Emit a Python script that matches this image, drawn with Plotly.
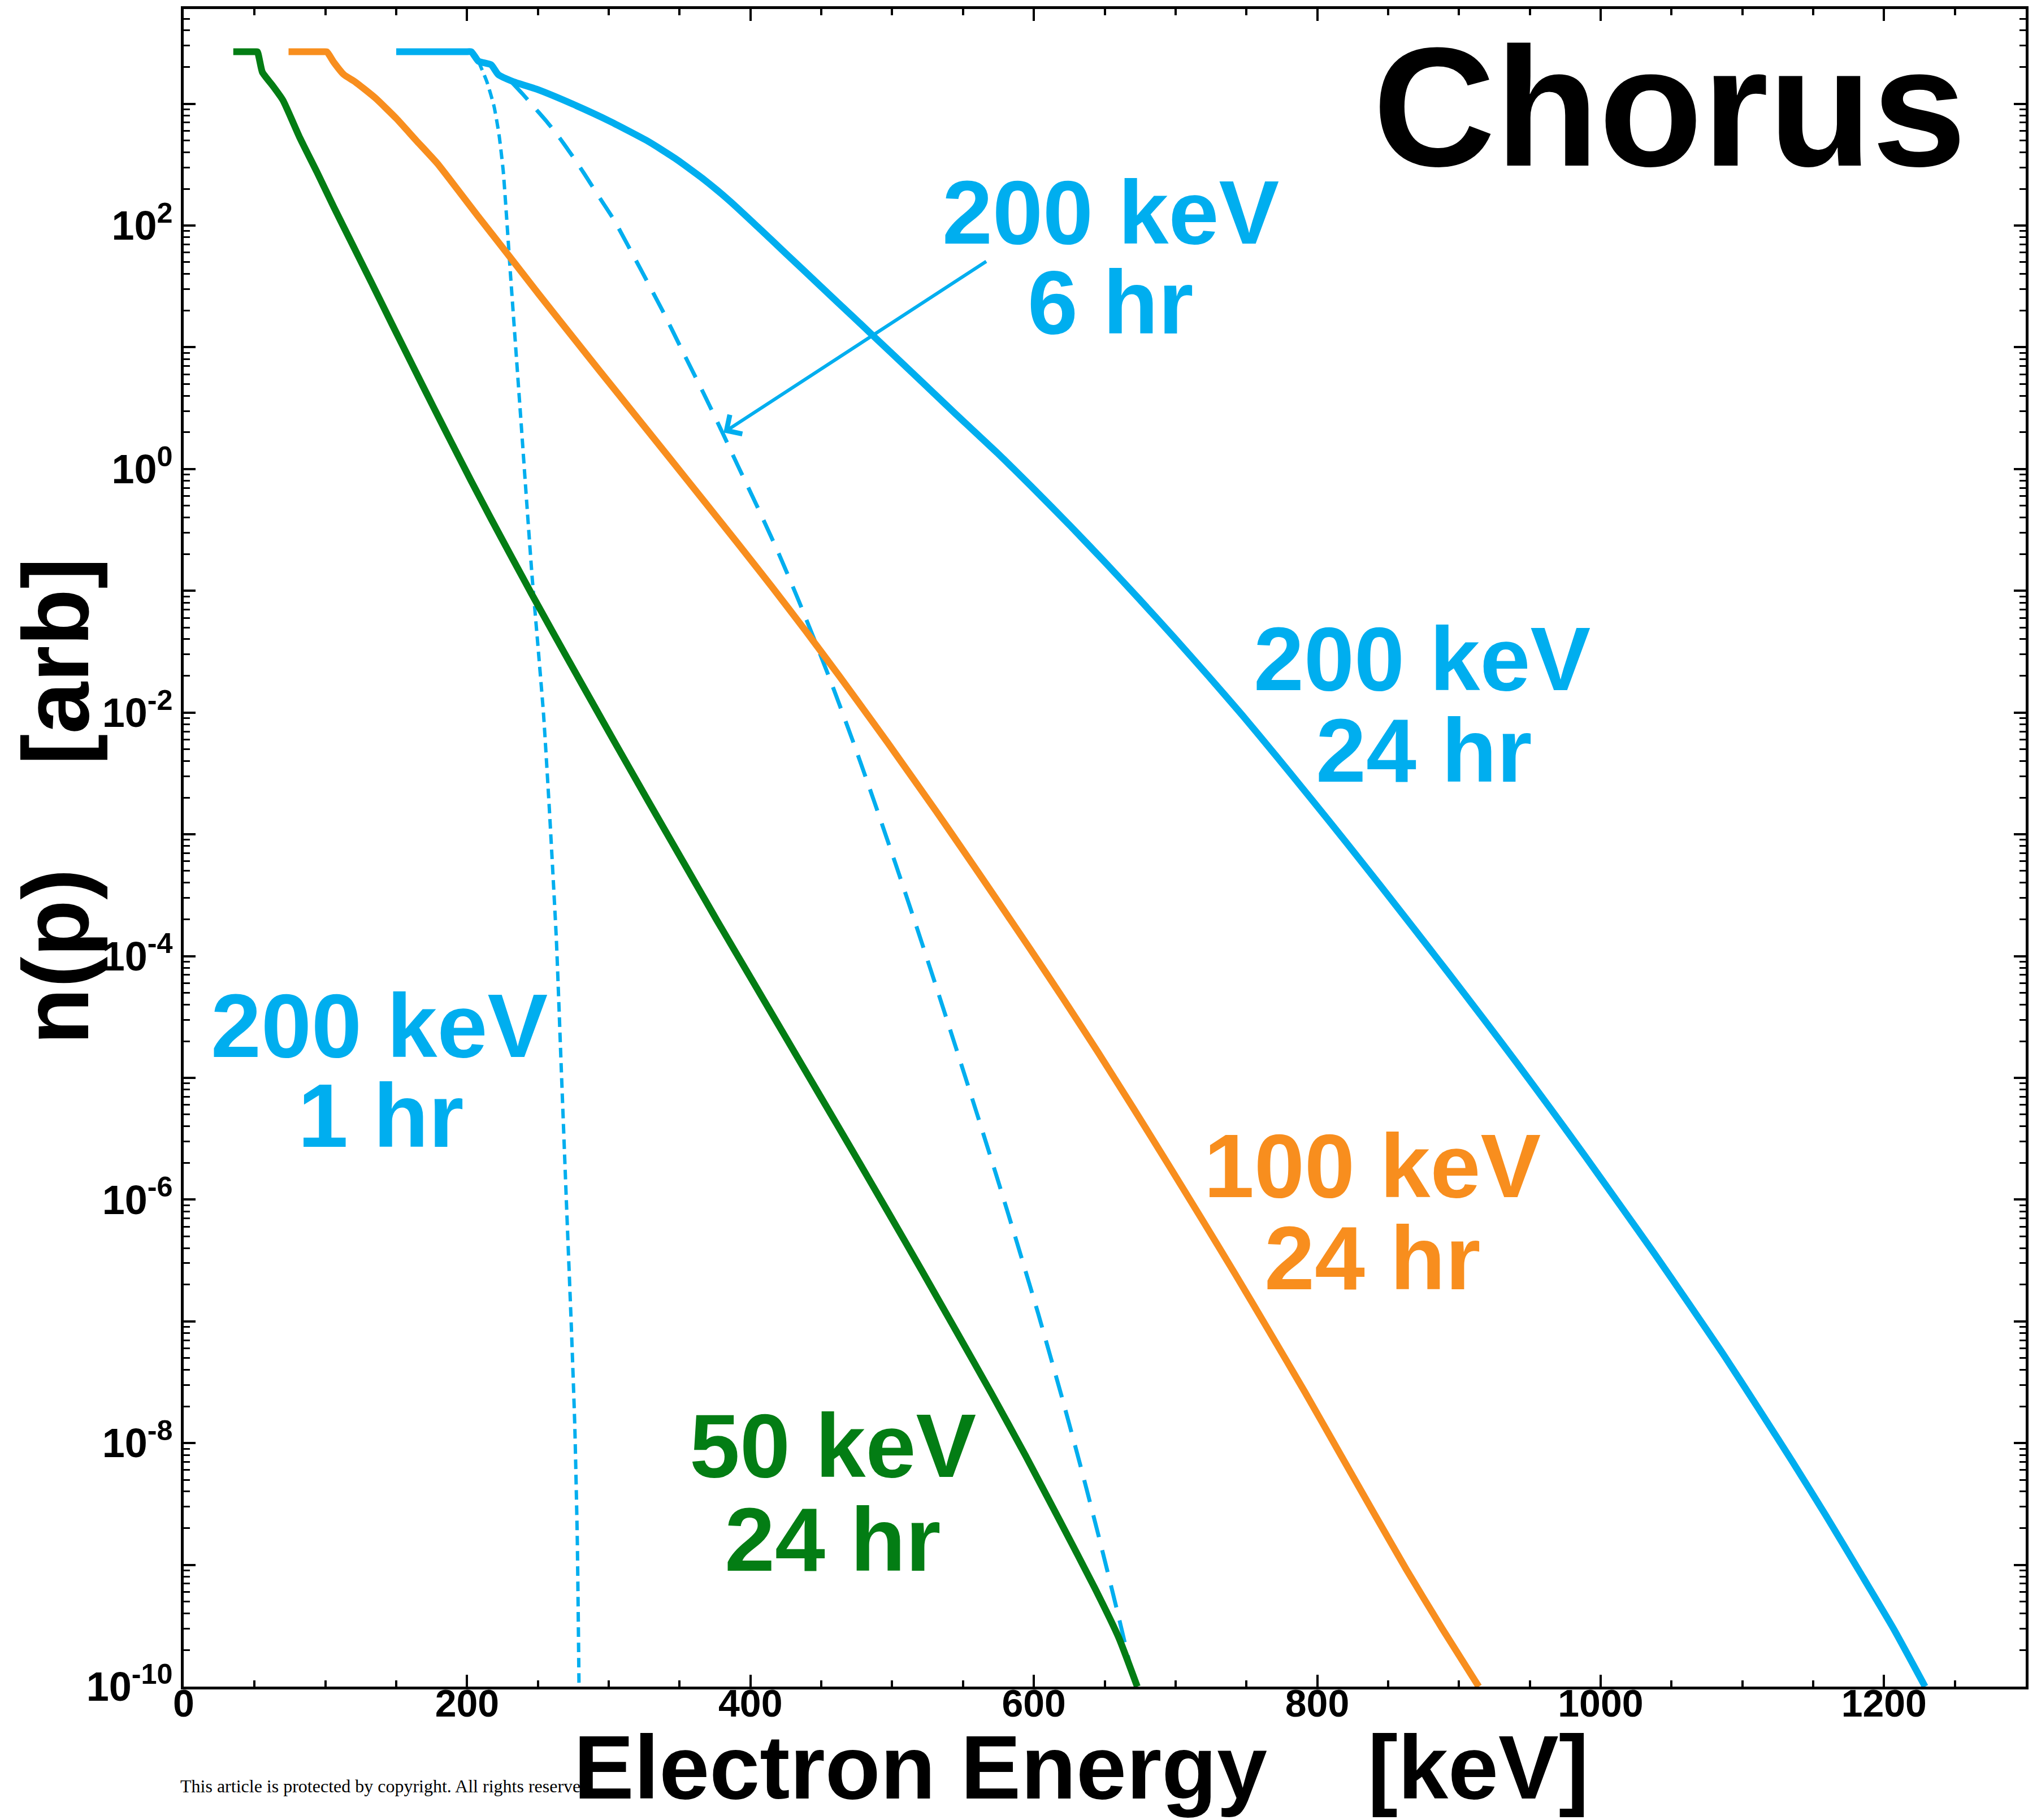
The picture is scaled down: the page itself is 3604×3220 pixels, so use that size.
import plotly.graph_objects as go

# ---- electron distributions: energy (keV) and log10 n(p) ----------------
# 50 keV source, 24 hr
e_50_24 = [35, 45, 50, 52, 55.5, 62.7, 70, 82, 94, 106, 118, 133, 147, 162,
           176, 188, 203, 217, 232, 246, 261, 280, 304, 328, 352, 376, 401,
           425, 449, 473, 497, 521, 545, 570, 594, 618, 643, 660, 673]
log10_n_50_24 = [3.427, 3.427, 3.427, 3.427, 3.26, 3.15, 3.03, 2.72, 2.44,
                 2.15, 1.87, 1.52, 1.19, 0.84, 0.515, 0.24, -0.10, -0.41,
                 -0.735, -1.035, -1.35, -1.745, -2.24, -2.73, -3.215, -3.70,
                 -4.195, -4.67, -5.145, -5.62, -6.10, -6.585, -7.075, -7.59,
                 -8.10, -8.63, -9.19, -9.60, -10.0]

# 100 keV source, 24 hr
e_100_24 = [74, 90, 98, 101, 106, 113, 121, 135, 150, 164, 179, 193, 207.5,
            229, 251, 272.5, 294, 318.5, 343, 367, 391, 415, 439, 463, 497,
            531, 550, 572, 597, 621, 645, 670, 694, 718, 742, 766, 791, 815,
            839, 863, 888, 914]
log10_n_100_24 = [3.427, 3.427, 3.427, 3.427, 3.34, 3.24, 3.18, 3.05, 2.88,
                  2.70, 2.51, 2.30, 2.08, 1.76, 1.43, 1.115, 0.80, 0.445,
                  0.09, -0.26, -0.61, -0.965, -1.33, -1.705, -2.25, -2.81,
                  -3.13, -3.505, -3.935, -4.355, -4.785, -5.245, -5.695,
                  -6.15, -6.61, -7.08, -7.575, -8.065, -8.555, -9.04, -9.52,
                  -10.0]

# 200 keV source, 24 hr
e_200_24 = [150, 180, 199, 203, 208, 217, 222, 233, 249, 274, 301, 328, 347,
            367, 386, 405, 425, 448.5, 473, 497, 521, 545, 574, 598, 626, 650,
            674, 699, 723, 747, 771, 796, 820, 844, 868, 892, 917, 941, 965,
            989, 1014, 1038, 1062, 1086, 1110, 1135, 1159, 1183, 1207, 1229]
log10_n_200_24 = [3.427, 3.427, 3.427, 3.427, 3.35, 3.32, 3.24, 3.18, 3.12,
                  3.00, 2.855, 2.69, 2.55, 2.38, 2.195, 1.99, 1.77, 1.512,
                  1.244, 0.98, 0.716, 0.45, 0.135, -0.14, -0.47, -0.763,
                  -1.063, -1.383, -1.698, -2.02, -2.356, -2.713, -3.06,
                  -3.413, -3.77, -4.13, -4.51, -4.88, -5.258, -5.642, -6.05,
                  -6.444, -6.85, -7.26, -7.69, -8.145, -8.595, -9.06, -9.53,
                  -10.0]

# 200 keV source, 1 hr
e_200_1 = [208, 214, 219, 222.5, 225.5, 228, 230.5, 234, 238, 242, 246, 250,
           254, 258, 263, 266.5, 270, 273.6, 276, 277.8, 279]
log10_n_200_1 = [3.35, 3.18, 2.98, 2.75, 2.45, 2.05, 1.62, 1.05, 0.40, -0.26,
                 -0.90, -1.45, -2.02, -2.78, -3.86, -4.93, -5.99, -7.05,
                 -7.85, -8.8, -10.0]

# 200 keV source, 6 hr
e_200_6 = [232, 240, 249, 256.5, 262.7, 269, 275, 283, 294, 304, 323, 338,
           352, 367, 381, 391, 405, 420, 434, 449, 458, 473, 487, 502, 516,
           531, 545, 560, 574, 589, 603, 620, 633, 646, 659, 671.5]
log10_n_200_6 = [3.17, 3.07, 2.95, 2.85, 2.76, 2.66, 2.56, 2.42, 2.22, 2.04,
                 1.63, 1.30, 0.97, 0.62, 0.28, 0.03, -0.313, -0.695, -1.08,
                 -1.515, -1.785, -2.257, -2.719, -3.229, -3.716, -4.248,
                 -4.752, -5.30, -5.818, -6.388, -6.934, -7.631, -8.19,
                 -8.775, -9.386, -10.0]

# ---- axis ticks ------------------------------------------------------------
x_major = [0, 200, 400, 600, 800, 1000, 1200]
x_minor = [v for v in range(50, 1300, 50) if v % 200 != 0]
y_labeled = [-10, -8, -6, -4, -2, 0, 2]      # labelled decades
y_unlabeled = [-9, -7, -5, -3, -1, 1, 3]     # long ticks without labels
y_minor_digits = list(range(2, 10))

CYAN = "#00AEEF"
ORANGE = "#F88E1E"
GREEN = "#037D14"
FONT = "Liberation Sans, Arial, sans-serif"
Y_RANGE = [-10, 3.778]

fig = go.Figure()

def curve(x, log_y, color, width, dash="solid", yaxis="y"):
    fig.add_trace(go.Scatter(x=x, y=[10.0 ** v for v in log_y], mode="lines",
                             yaxis=yaxis,
                             line=dict(color=color, width=width, dash=dash,
                                       shape="spline", smoothing=0.5)))

curve(e_200_1, log10_n_200_1, CYAN, 6, "17px,10px")
curve(e_200_6, log10_n_200_6, CYAN, 7, "40px,24px")
curve(e_50_24, log10_n_50_24, GREEN, 12)
curve(e_100_24, log10_n_100_24, ORANGE, 12)
curve(e_200_24, log10_n_200_24, CYAN, 12)
# empty trace keeps the secondary (unlabelled-decade) axis alive
fig.add_trace(go.Scatter(x=[], y=[], yaxis="y2", showlegend=False,
                         hoverinfo="skip"))

y_minor = [m * 10.0 ** d for d in range(-10, 3) for m in y_minor_digits]
y_minor += [m * 1e3 for m in range(2, 7)]

axis_common = dict(showgrid=False, zeroline=False, showline=True,
                   linecolor="black", linewidth=5, mirror="ticks",
                   ticks="inside", ticklen=21, tickwidth=4,
                   tickcolor="black", tickmode="array")

fig.update_layout(
    xaxis=dict(
        range=[0, 1300], tickvals=x_major,
        ticktext=["<b>%d</b>" % v for v in x_major],
        tickfont=dict(family=FONT, size=68, color="black"),
        ticklabelstandoff=-34,
        minor=dict(tickmode="array", tickvals=x_minor, ticks="inside",
                   ticklen=11, tickwidth=4, tickcolor="black"),
        **axis_common),
    yaxis=dict(
        type="log", range=Y_RANGE,
        tickvals=[10.0 ** d for d in y_labeled],
        ticktext=["<b>10<sup>%d</sup></b>" % d for d in y_labeled],
        tickfont=dict(family=FONT, size=72, color="black"),
        minor=dict(tickmode="array", tickvals=y_minor, ticks="inside",
                   ticklen=11, tickwidth=3, tickcolor="black"),
        **axis_common),
    yaxis2=dict(
        type="log", range=Y_RANGE, overlaying="y", side="left",
        anchor="x", tickvals=[10.0 ** d for d in y_unlabeled],
        showticklabels=False, **axis_common),
)

annotations = []

def label(text, x, logy, color):
    annotations.append(dict(text="<b>%s</b>" % text, x=x, y=logy,
                            xref="x", yref="y", showarrow=False,
                            xanchor="center", yanchor="middle",
                            font=dict(family=FONT, size=160, color=color)))

label("200 keV", 654, 2.11, CYAN)
label("6 hr", 654, 1.37, CYAN)
label("200 keV", 874, -1.56, CYAN)
label("24 hr", 875, -2.31, CYAN)
label("100 keV", 839, -5.72, ORANGE)
label("24 hr", 839, -6.48, ORANGE)
label("50 keV", 458, -8.02, GREEN)
label("24 hr", 458, -8.79, GREEN)
label("200 keV", 138, -4.57, CYAN)
label("1 hr", 139, -5.31, CYAN)

# arrow pointing at the 6 hr curve
annotations.append(dict(text="", x=381, y=0.30, xref="x", yref="y",
                        ax=567, ay=1.71, axref="x", ayref="y",
                        showarrow=True, arrowhead=4, arrowsize=1.3,
                        arrowwidth=6, arrowcolor=CYAN, standoff=0))

annotations.append(dict(text="<b>Chorus</b>", x=0.8067, y=0.9418,
                        xref="paper", yref="paper", showarrow=False,
                        xanchor="center", yanchor="middle",
                        font=dict(family=FONT, size=300, color="black")))

annotations.append(dict(text="This article is protected by copyright. All rights reserved.",
                        x=-0.0025, y=-0.0592, xref="paper", yref="paper",
                        showarrow=False, xanchor="left", yanchor="middle",
                        font=dict(family="Liberation Serif, serif", size=32,
                                  color="black")))

annotations.append(dict(text="<b>Electron Energy\u00a0\u00a0\u00a0\u00a0[keV]</b>",
                        x=0.4873, y=-0.0480, xref="paper", yref="paper",
                        showarrow=False, xanchor="center", yanchor="middle",
                        font=dict(family=FONT, size=160, color="black")))

annotations.append(dict(text="<b>n(p)\u00a0\u00a0\u00a0\u00a0[arb]</b>",
                        x=-0.0695, y=0.528, xref="paper", yref="paper",
                        showarrow=False, xanchor="center", yanchor="middle",
                        textangle=-90,
                        font=dict(family=FONT, size=165, color="black")))

fig.update_layout(
    width=3604, height=3220,
    margin=dict(l=325, r=20, t=11, b=236),
    plot_bgcolor="white", paper_bgcolor="white",
    showlegend=False, font=dict(family=FONT, color="black"),
    annotations=annotations,
)

fig.write_html("out.html")
